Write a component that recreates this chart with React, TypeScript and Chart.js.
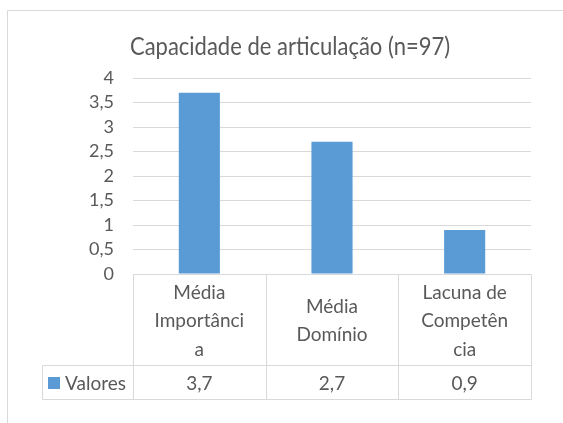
import React, { useEffect, useRef } from "react";
import { Chart, registerables } from "chart.js";

Chart.register(...registerables);

const titleText = "Capacidade de articulação (n=97)";
const categories: string[][] = [
  ["Média", "Importânci", "a"],
  ["Média", "Domínio"],
  ["Lacuna de", "Competên", "cia"],
];
const seriesLabel = "Valores";
const values = [3.7, 2.7, 0.9];
const yMin = 0;
const yMax = 4;
const yStep = 0.5;

const FONT = "Lato, 'Open Sans', sans-serif";
const TEXT = "#595959";
const GRID = "#d9d9d9";
const BAR = "#5b9bd5";

const fmt = (v: number) => String(v).replace(".", ",");

const tablePlugin = {
  id: "tablePlugin",
  afterDraw(chart: any) {
    const ctx = chart.ctx as CanvasRenderingContext2D;
    const x = chart.scales.x;
    const area = chart.chartArea;
    const n = categories.length;
    const cw = (x.right - x.left) / n;
    const top = Math.round(area.bottom) + 0.5;
    const rowDiv = 365.5;
    const bottom = 399.5;
    const legLeft = 42.5;

    ctx.save();
    // frame
    ctx.strokeStyle = GRID;
    ctx.lineWidth = 1;
    ctx.beginPath();
    ctx.moveTo(7.5, 423);
    ctx.lineTo(7.5, 10.5);
    ctx.lineTo(563, 10.5);
    ctx.stroke();

    // title
    ctx.fillStyle = TEXT;
    ctx.font = `22px ${FONT}`;
    ctx.textAlign = "center";
    ctx.textBaseline = "alphabetic";
    ctx.save();
    ctx.translate(290, 55);
    ctx.scale(1, 1.12);
    ctx.fillText(titleText, 0, 0);
    ctx.restore();

    // table lines
    ctx.strokeStyle = GRID;
    ctx.beginPath();
    ctx.moveTo(Math.round(x.left) + 0.5, top);
    ctx.lineTo(Math.round(x.right) + 0.5, top);
    ctx.moveTo(legLeft, rowDiv);
    ctx.lineTo(Math.round(x.right) + 0.5, rowDiv);
    ctx.moveTo(legLeft, bottom);
    ctx.lineTo(Math.round(x.right) + 0.5, bottom);
    ctx.moveTo(legLeft, rowDiv);
    ctx.lineTo(legLeft, bottom);
    for (let i = 0; i <= n; i++) {
      const px = Math.round(x.left + cw * i) + 0.5;
      ctx.moveTo(px, top);
      ctx.lineTo(px, bottom);
    }
    ctx.stroke();

    // header text
    ctx.fillStyle = TEXT;
    ctx.font = `19px ${FONT}`;
    ctx.textAlign = "center";
    ctx.textBaseline = "middle";
    const lh = 28.5;
    const headMid = (top + rowDiv) / 2 + 1;
    categories.forEach((lines, i) => {
      const cx = x.getPixelForValue(i);
      const start = headMid - ((lines.length - 1) * lh) / 2;
      lines.forEach((ln, j) => ctx.fillText(ln, cx, start + j * lh));
    });

    // values row
    const valMid = (rowDiv + bottom) / 2 + 1;
    values.forEach((v, i) => {
      ctx.fillText(fmt(v), x.getPixelForValue(i), valMid);
    });

    // legend key
    ctx.fillStyle = BAR;
    ctx.fillRect(48, 377, 12, 12);
    ctx.fillStyle = TEXT;
    ctx.textAlign = "left";
    ctx.fillText(seriesLabel, 65, valMid);
    ctx.restore();
  },
};

export default function App() {
  const ref = useRef<HTMLCanvasElement>(null);
  useEffect(() => {
    if (!ref.current) return;
    const chart = new Chart(ref.current, {
      type: "bar",
      data: {
        labels: categories.map((c) => c.join(" ")),
        datasets: [
          {
            label: seriesLabel,
            data: values,
            backgroundColor: BAR,
            categoryPercentage: 1,
            barPercentage: 0.31,
          },
        ],
      },
      options: {
        responsive: false,
        animation: false,
        layout: { padding: { left: 0, top: 78, right: 32, bottom: 149 } },
        plugins: {
          legend: { display: false },
          title: { display: false },
          tooltip: { enabled: false },
        },
        scales: {
          x: { display: false },
          y: {
            min: yMin,
            max: yMax,
            ticks: {
              stepSize: yStep,
              autoSkip: false,
              color: TEXT,
              padding: 19,
              font: { family: FONT, size: 18 },
              callback: (v: any) => fmt(Number(v)),
            },
            grid: { color: GRID, drawTicks: false },
            border: { display: false },
            afterFit: (s: any) => {
              s.width = 133;
            },
          },
        },
      },
      plugins: [tablePlugin],
    });
    return () => chart.destroy();
  }, []);
  return (
    <div style={{ position: "absolute", left: 0, top: 0, width: 563, height: 423 }}>
      <canvas ref={ref} width={563} height={423} />
    </div>
  );
}
